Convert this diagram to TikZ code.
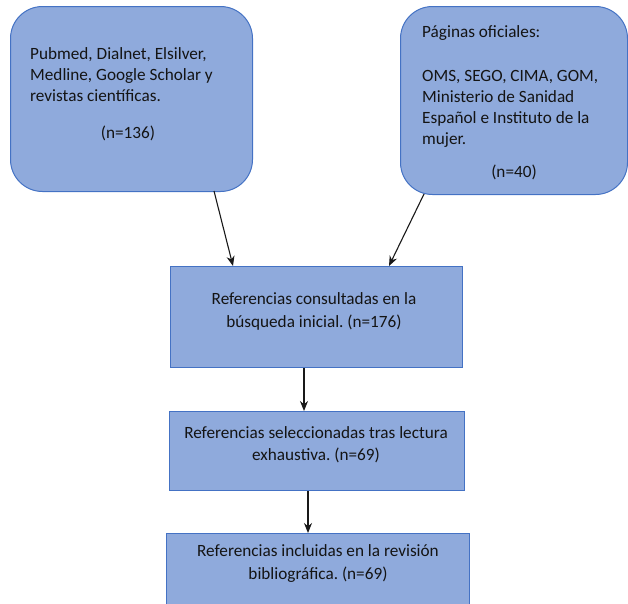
\documentclass[tikz,border=0pt]{standalone}
\usepackage{fontspec}
\setmainfont{Carlito}
\usetikzlibrary{arrows.meta}
\definecolor{boxfill}{RGB}{143,170,220}
\definecolor{boxline}{RGB}{68,114,196}
\definecolor{txt}{RGB}{20,20,20}
\frenchspacing
\begin{document}
\begin{tikzpicture}[x=1pt,y=-1pt,
  box/.style={draw=boxline,line width=1pt,fill=boxfill,inner sep=0pt,anchor=north west},
  rbox/.style={box,rounded corners=32pt},
  lbl/.style={inner sep=0pt,text=txt,font=\fontsize{17.2}{21}\selectfont},
  arr/.style={-{Stealth[length=10pt,width=8pt]},line width=1.1pt,black!90}]
\useasboundingbox (0,0) rectangle (628,603);
\clip (0,0) rectangle (628,603);
% boxes
\node[rbox,minimum width=242pt,minimum height=185pt] (b1) at (10,6) {};
\node[rbox,minimum width=227pt,minimum height=188pt] (b2) at (400,6) {};
\node[box,minimum width=292pt,minimum height=101pt] (b3) at (170,266) {};
\node[box,minimum width=295pt,minimum height=79pt] (b4) at (169,411) {};
\node[box,minimum width=303pt,minimum height=90pt] (b5) at (166,533) {};
% box 1 text
\node[lbl,anchor=base west] (t1a) at (30,59) {Pubmed, Dialnet, Elsilver,};
\node[lbl,anchor=base west] (t1b) at (30,80) {Medline, Google Scholar y};
\node[lbl,anchor=base west] (t1c) at (30,101) {revistas científicas.};
\node[lbl,anchor=base] (t1d) at (128,138) {(n=136)};
% box 2 text
\node[lbl,anchor=base west] (t2a) at (422,37) {Páginas oficiales:};
\node[lbl,anchor=base west] (t2b) at (422,81) {OMS, SEGO, CIMA, GOM,};
\node[lbl,anchor=base west] (t2c) at (422,102) {Ministerio de Sanidad};
\node[lbl,anchor=base west] (t2d) at (422,123) {Español e Instituto de la};
\node[lbl,anchor=base west] (t2e) at (422,144) {mujer.};
\node[lbl,anchor=base] (t2f) at (514,177) {(n=40)};
% box 3 text
\node[lbl,anchor=base] (t3a) at (314,304) {Referencias consultadas en la};
\node[lbl,anchor=base] (t3b) at (314,327) {búsqueda inicial. (n=176)};
% box 4 text
\node[lbl,anchor=base] (t4a) at (316,438) {Referencias seleccionadas tras lectura};
\node[lbl,anchor=base] (t4b) at (316,460) {exhaustiva. (n=69)};
% box 5 text
\node[lbl,anchor=base] (t5a) at (318,556) {Referencias incluidas en la revisión};
\node[lbl,anchor=base] (t5b) at (318,579) {bibliográfica. (n=69)};
% arrows
\coordinate (a1s) at (214,191);
\coordinate (a2s) at (424,194);
\draw[arr] (a1s) -- (b3.north west -| 233,0);
\draw[arr] (a2s) -- (b3.north west -| 389,0);
\draw[arr] (b3.south west -| 304,0) -- (b4.north west -| 304,0);
\draw[arr] (b4.south west -| 308,0) -- (b5.north west -| 308,0);
\end{tikzpicture}
\end{document}
